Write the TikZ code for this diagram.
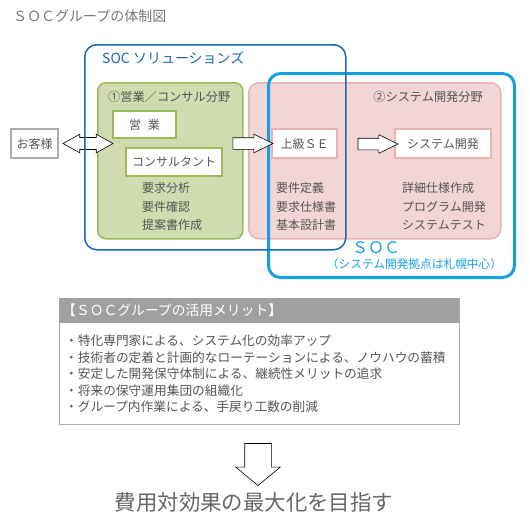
\documentclass[tikz,border=0pt]{standalone}
\usepackage{fontspec}
\setmainfont{Noto Sans CJK JP}
\usetikzlibrary{shapes.arrows,positioning,calc}

\definecolor{solblue}{RGB}{25,105,185}
\definecolor{socblue}{RGB}{22,160,228}
\definecolor{salesfill}{RGB}{206,220,176}
\definecolor{salesline}{RGB}{155,187,89}
\definecolor{devfill}{RGB}{242,214,214}
\definecolor{devline}{RGB}{230,178,178}
\definecolor{txtgray}{RGB}{85,85,85}
\definecolor{bargray}{RGB}{160,160,160}
\definecolor{framegray}{RGB}{172,172,172}

\begin{document}
\begin{tikzpicture}[
  x=1pt, y=-1pt,
  area/.style={anchor=north west, inner sep=0pt},
  role/.style={draw, fill=white, line width=1.5pt, inner sep=0pt, text=txtgray, font=\fontsize{12}{14}\selectfont},
  tasks/.style={align=left, anchor=west, inner sep=0pt, text=txtgray, font=\fontsize{12}{18.5}\selectfont},
  field label/.style={inner sep=0pt, text=txtgray, font=\fontsize{12.2}{14}\selectfont},
  blockarrow/.style={single arrow, draw=black, fill=white, line width=0.6pt, inner xsep=0pt, inner ysep=5.5pt, single arrow head extend=3.5pt, single arrow tip angle=52},
  merit text/.style={anchor=west, inner sep=0pt, font=\fontsize{13.8}{16}\selectfont},
  goal text/.style={inner sep=0pt, font=\fontsize{21.4}{24}\selectfont}
]
  \useasboundingbox (0,0) rectangle (530,530);

  % title
  \node[anchor=west, inner sep=0pt, text=txtgray!80, font=\fontsize{14}{16}\selectfont] (title) at (13,16) {ＳＯＣグループの体制図};

  % areas
  \node[area, draw=devline, fill=devfill, line width=1.5pt, rounded corners=10pt, minimum width=252pt, minimum height=156pt] (dev) at (248,82) {};
  \node[area, draw=salesline, fill=salesfill, line width=1.5pt, rounded corners=8pt, minimum width=145pt, minimum height=156pt] (sales) at (97,82) {};

  \node[field label, anchor=west] (saleslbl) at (108,97) {①営業／コンサル分野};
  \node[field label, anchor=east] (devlbl) at (483,97) {②システム開発分野};

  % roles
  \node[role, draw=framegray, line width=2.5pt, minimum width=47pt, minimum height=29pt] (client) at (34.5,143.5) {お客様};
  \node[role, draw=salesline, minimum width=63pt, minimum height=27pt] (eigyo) at (144.5,124.5) {営\hspace{7pt}業};
  \node[role, draw=salesline, minimum width=96pt, minimum height=28pt] (consul) at (174,162) {コンサルタント};
  \node[role, draw=devline, minimum width=65pt, minimum height=29pt] (se) at (304.5,143.5) {上級ＳＥ};
  \node[role, draw=devline, minimum width=96pt, minimum height=29pt] (sysdev) at (443,143.5) {システム開発};

  \node[tasks] (salestasks) at (142,206.5) {要求分析\\要件確認\\提案書作成};
  \node[tasks] (setasks) at (276,206.5) {要件定義\\要求仕様書\\基本設計書};
  \node[tasks] (devtasks) at (402,206.5) {詳細仕様作成\\プログラム開発\\システムテスト};

  % SOC
  \node[area, draw=socblue, line width=3pt, rounded corners=12pt, minimum width=246pt, minimum height=204pt] (soc) at (267,72) {};
  \node[inner sep=0pt, text=socblue, font=\fontsize{16}{18}\selectfont] (soclbl) at (376,248) {ＳＯＣ};
  \node[inner sep=0pt, text=socblue, font=\fontsize{11.7}{14}\selectfont] (socsub) at (414.5,264) {（システム開発拠点は札幌中心）};

  % flow arrows
  \node[double arrow, draw=black, fill=white, line width=0.6pt, inner xsep=0pt, inner ysep=5.7pt, minimum height=50pt,
        double arrow head extend=3.3pt, double arrow tip angle=58] (clientarrow) at (88,143.5) {};
  \node[blockarrow, minimum height=40pt] (handover) at (247,143.5) {};
  \node[blockarrow, minimum height=40pt] (devarrow) at (372,144) {};

  % SOC solutions
  \node[area, draw=solblue, line width=1.5pt, rounded corners=12pt, minimum width=261pt, minimum height=205pt] (sol) at (84,44) {};
  \node[anchor=west, inner sep=0pt, text=solblue, font=\fontsize{14}{16}\selectfont] (sollbl) at (102,58) {SOC ソリューションズ};

  % merits
  \node[area, draw=framegray, fill=white, line width=1.2pt, minimum width=400pt, minimum height=126pt] (merit) at (59,298) {};
  \node[area, fill=bargray, minimum width=400pt, minimum height=25pt] (meritbar) at (59,298) {};
  \node[merit text, text=white] (merithead) at (62,310.5) {【ＳＯＣグループの活用メリット】};
  \node[anchor=west, align=left, inner sep=0pt, text=txtgray, font=\fontsize{12.7}{16.5}\selectfont] (meritlist) at (65,374)
    {・特化専門家による、システム化の効率アップ\\
     ・技術者の定着と計画的なローテーションによる、ノウハウの蓄積\\
     ・安定した開発保守体制による、継続性メリットの追求\\
     ・将来の保守運用集団の組織化\\
     ・グループ内作業による、手戻り工数の削減};

  % goal
  \node[single arrow, draw=black, fill=white, line width=0.6pt, inner xsep=0pt, inner ysep=13pt, minimum height=42pt,
        single arrow head extend=9pt, single arrow tip angle=101, rotate=-90] (goalarrow) at (258,459) {};
  \node[goal text, text=txtgray!90] (goal) at (254,502) {費用対効果の最大化を目指す};
\end{tikzpicture}
\end{document}
